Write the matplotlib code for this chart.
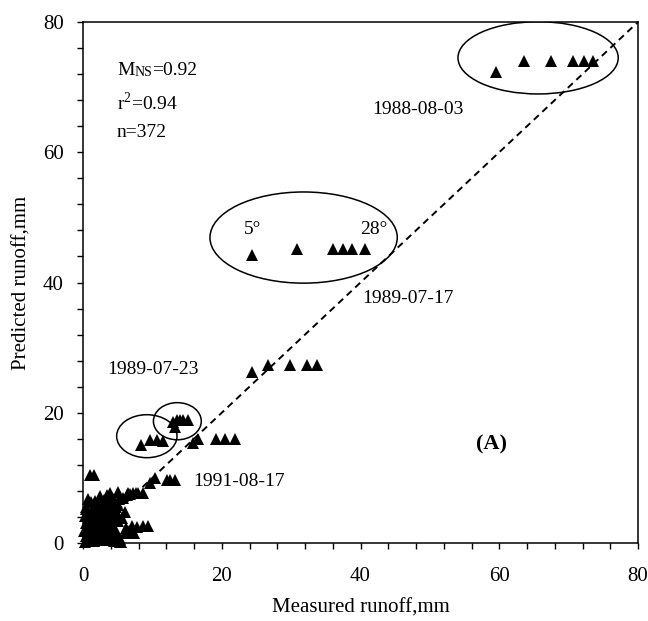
import matplotlib
matplotlib.use("Agg")
import matplotlib.pyplot as plt
import matplotlib.ticker as ticker
from matplotlib.patches import Ellipse

plt.rcParams['font.family'] = ['Liberation Serif', 'DejaVu Serif']
plt.rcParams['mathtext.fontset'] = 'custom'
plt.rcParams['mathtext.rm'] = 'Liberation Serif'

# measured vs predicted runoff (mm), grouped roughly by storm event
measured_low = [0.3, 0.5, 0.6, 0.4, 0.8, 0.5, 0.9, 1.2, 1.0, 1.4, 1.1, 1.8, 0.7,
                1.6, 1.9, 2.2, 2.0, 2.4, 2.1, 2.8, 2.6, 3.0, 2.9, 3.2, 3.4, 3.0,
                3.6, 3.8, 4.0, 3.7, 4.2, 4.4, 4.5, 4.8, 4.6, 5.0, 4.9, 5.4, 5.2,
                3.5, 4.0, 2.5, 1.5, 2.7, 3.3, 4.3, 1.3, 0.2, 0.3, 2.3, 3.9, 4.7,
                5.5, 5.6, 6.0, 6.0, 6.6, 7.3, 6.2, 7.0, 7.8, 8.7, 9.4, 1.0, 1.6,
                5.1, 6.5, 7.2, 7.9, 8.7, 3.9, 9.7,
                0.6, 1.4, 2.2, 3.1, 3.9, 4.6, 0.9, 1.7, 2.5, 3.4, 4.1, 1.2, 2.0,
                2.8, 3.6, 4.4, 0.4, 1.5, 2.6, 3.5, 4.3, 5.0, 1.1, 2.4, 3.8, 5.3,
                0.8, 1.9, 3.2, 4.5, 2.3, 3.3, 4.2, 6.8, 7.6, 5.8, 6.4]
predicted_low = [0.2, 1.0, 2.2, 3.0, 4.0, 5.2, 0.5, 1.5, 2.8, 3.6, 6.3, 6.5, 6.8,
                 0.3, 1.2, 2.0, 3.2, 4.4, 5.4, 0.4, 1.6, 2.6, 3.6, 4.6, 5.6, 6.6,
                 0.8, 1.8, 3.0, 4.0, 5.0, 6.2, 0.3, 1.2, 2.2, 3.4, 4.6, 0.2, 6.8,
                 7.4, 7.0, 7.2, 4.8, 5.8, 1.0, 3.8, 2.0, 1.8, 4.2, 0.9, 2.4, 5.6,
                 0.1, 3.8, 4.8, 1.6, 1.8, 1.6, 2.3, 2.6, 2.5, 2.6, 2.6, 10.4, 10.4,
                 7.8, 7.7, 7.7, 7.7, 7.7, 7.7, 9.2,
                 0.6, 0.7, 0.6, 0.5, 0.8, 1.6, 1.9, 2.4, 3.0, 2.1, 2.7, 3.4, 4.1,
                 4.8, 4.5, 3.9, 5.6, 5.0, 5.8, 6.0, 6.8, 5.9, 4.7, 6.4, 6.4, 0.6,
                 3.5, 3.9, 5.0, 5.5, 1.0, 1.3, 1.0, 7.6, 7.7, 6.9, 7.4]

measured_mid = [10.4, 12.1, 12.6, 13.3,
                8.4, 9.7, 10.7, 11.6,
                13.0, 13.6, 14.0, 14.4, 15.2, 13.3,
                15.9, 16.6, 19.1, 20.5, 21.9,
                24.4, 26.6, 29.9, 32.3, 33.8]
predicted_mid = [10.0, 9.7, 9.7, 9.7,
                 15.1, 15.8, 15.8, 15.7,
                 18.6, 18.9, 18.9, 18.9, 18.9, 17.8,
                 15.4, 16.0, 16.0, 16.0, 16.0,
                 26.3, 27.3, 27.3, 27.3, 27.3]

# 1989-07-17 event, slopes from 5 to 28 degrees
measured_0717 = [24.4, 30.9, 36.1, 37.5, 38.8, 40.6]
predicted_0717 = [44.2, 45.2, 45.2, 45.2, 45.2, 45.2]

# 1988-08-03 event
measured_0803 = [59.5, 63.5, 67.4, 70.6, 72.2, 73.5]
predicted_0803 = [72.3, 74.0, 74.0, 74.0, 74.0, 74.0]

measured = measured_low + measured_mid + measured_0717 + measured_0803
predicted = predicted_low + predicted_mid + predicted_0717 + predicted_0803

fig = plt.figure(figsize=(6.48, 6.21), dpi=100)
ax = fig.add_axes([83 / 648, 1 - 543 / 621, (638 - 83) / 648, (543 - 22) / 621])

ax.plot([0, 80], [0, 80], color='k', linewidth=1.4, linestyle=(0, (3.5, 2.5)))
ax.plot(measured, predicted, linestyle='none', marker='^', markersize=8.8,
        color='k', markeredgewidth=0, clip_on=False)

for cx, cy, w, h in [(65.6, 74.5, 23.1, 11.1), (31.8, 46.9, 27.0, 14.0),
                     (9.2, 16.4, 8.7, 6.6), (13.6, 18.7, 6.9, 5.7)]:
    ax.add_patch(Ellipse((cx, cy), w, h, fill=False, edgecolor='k', linewidth=1.1))

ax.set_xlim(0, 80)
ax.set_ylim(0, 80)
ax.xaxis.set_major_locator(ticker.MultipleLocator(20))
ax.yaxis.set_major_locator(ticker.MultipleLocator(20))
ax.xaxis.set_minor_locator(ticker.MultipleLocator(4))
ax.yaxis.set_minor_locator(ticker.MultipleLocator(4))
ax.tick_params(which='both', direction='out', length=4, width=1.0,
               top=False, right=False)
ax.tick_params(axis='x', which='major', pad=13, labelsize=15)
ax.tick_params(axis='y', which='major', pad=10, labelsize=15)
for s in ax.spines.values():
    s.set_linewidth(1.1)

ax.set_xlabel('Measured runoff,mm', fontsize=15, labelpad=9)
ax.set_ylabel('Predicted runoff,mm', fontsize=15, labelpad=8)

# statistics block
fs = 14
t_m = ax.text(4.9, 71.2, 'M', fontsize=fs, va='bottom', ha='left')
t_ns = ax.annotate('NS', xy=(1, 0), xycoords=t_m, fontsize=10, va='bottom', ha='left')
ax.annotate('=0.92', xy=(1, 0), xycoords=(t_ns, t_m), fontsize=fs, va='bottom', ha='left')
ax.text(4.9, 67.6, r'r$^{\mathregular{2}}$=0.94', fontsize=fs, va='center', ha='left')
ax.text(4.9, 63.1, 'n=372', fontsize=fs, va='center', ha='left')

ax.text(41.7, 66.5, '1988-08-03', fontsize=fs, va='center', ha='left')
ax.text(40.3, 37.6, '1989-07-17', fontsize=fs, va='center', ha='left')
ax.text(3.5, 26.6, '1989-07-23', fontsize=fs, va='center', ha='left')
ax.text(15.9, 9.5, '1991-08-17', fontsize=fs, va='center', ha='left')
ax.text(24.5, 48.1, '5°', fontsize=fs, va='center', ha='center')
ax.text(41.9, 48.1, '28°', fontsize=fs, va='center', ha='center')
ax.text(58.9, 15.2, '(A)', fontsize=16, fontweight='bold', va='center', ha='center')

plt.savefig('out.png', dpi=100)
